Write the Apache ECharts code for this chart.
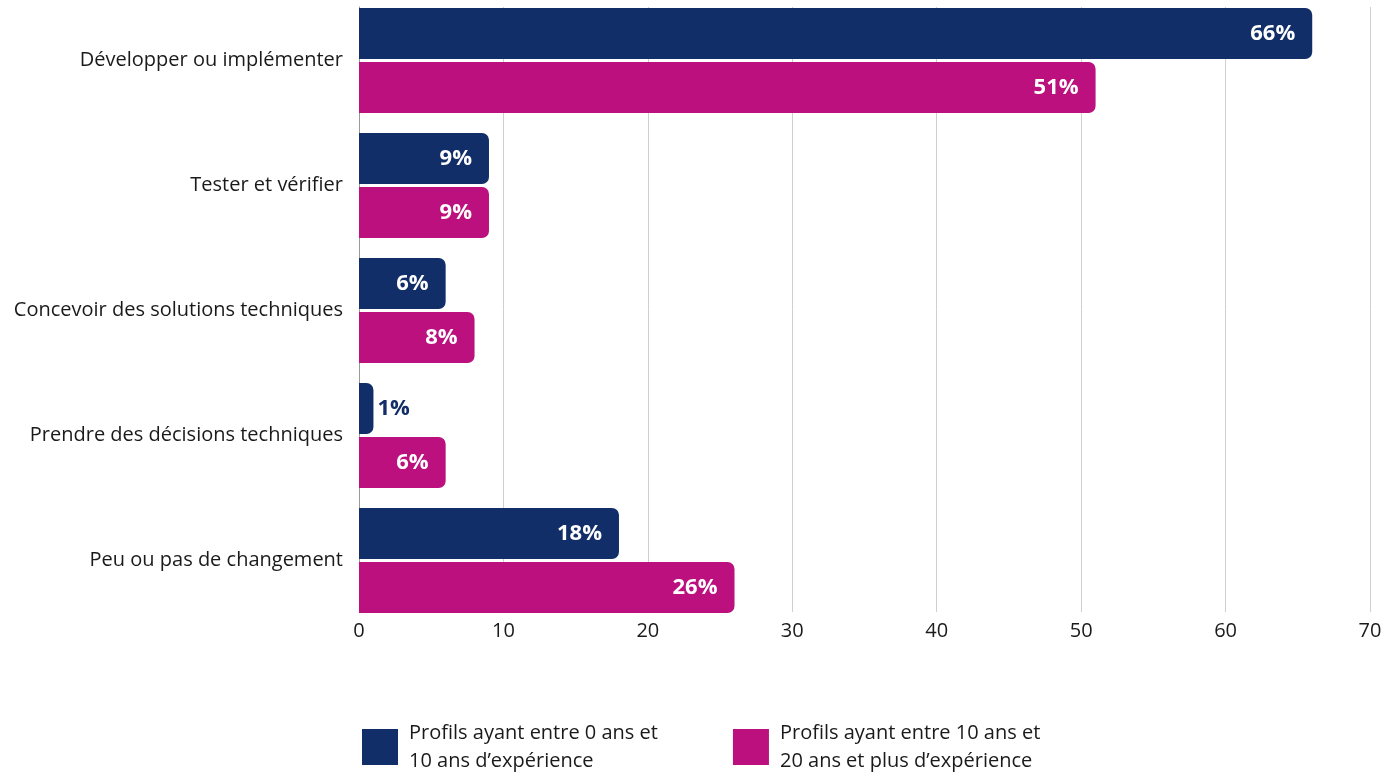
<!DOCTYPE html>
<html>
<head>
<meta charset="utf-8">
<script src="https://cdn.jsdelivr.net/npm/echarts@6/dist/echarts.min.js"></script>
<style>
  html, body { margin: 0; padding: 0; background: #ffffff; }
  #chart { width: 1399px; height: 774px; }
</style>
</head>
<body>
<div id="chart"></div>
<script>
// Répartition des activités selon l'expérience (en %)
const categories = [
  'Développer ou implémenter',
  'Tester et vérifier',
  'Concevoir des solutions techniques',
  'Prendre des décisions techniques',
  'Peu ou pas de changement'
];
const juniorValues = [66, 9, 6, 1, 18];
const seniorValues = [51, 9, 8, 6, 26];
const seriesNames = [
  'Profils ayant entre 0 ans et\n10 ans d’expérience',
  'Profils ayant entre 10 ans et\n20 ans et plus d’expérience'
];
const xTicks = { min: 0, max: 70, interval: 10 };

const NAVY = '#122e68';
const PINK = '#bb107d';
const FONT = '"Open Sans", Lato, sans-serif';

// Bars too short to hold their label get it outside, in the bar colour
function toData(values, color) {
  return values.map(v => v < 3
    ? { value: v, label: { position: 'right', color: color, distance: 4 } }
    : v);
}

const barLabel = {
  show: true,
  position: 'insideRight',
  distance: 17,
  color: '#ffffff',
  fontFamily: FONT,
  fontWeight: 'bold',
  fontSize: 22,
  formatter: p => p.value + '%'
};

const chart = echarts.init(document.getElementById('chart'), null, { renderer: 'canvas' });
chart.setOption({
  animation: false,
  backgroundColor: '#ffffff',
  textStyle: { fontFamily: FONT },
  grid: [
    // bars and category labels
    { left: 359, right: 29, top: -2, height: 625, containLabel: false, outerBoundsMode: 'none' },
    // value scale, gridlines and axis line
    { left: 359, right: 29, top: 7, bottom: 162, containLabel: false, outerBoundsMode: 'none' }
  ],
  xAxis: [
    { gridIndex: 0, type: 'value', min: xTicks.min, max: xTicks.max, interval: xTicks.interval, show: false },
    {
      gridIndex: 1, type: 'value', min: xTicks.min, max: xTicks.max, interval: xTicks.interval,
      axisLine: { show: false }, axisTick: { show: false },
      splitLine: { show: true, lineStyle: { color: '#cfcfcf', width: 1 } },
      axisLabel: { color: '#1a1a1a', fontSize: 20, fontFamily: FONT, margin: 9 }
    }
  ],
  yAxis: [
    {
      gridIndex: 0, type: 'category', data: categories, inverse: true,
      axisLine: { show: false }, axisTick: { show: false }, splitLine: { show: false },
      axisLabel: { color: '#1a1a1a', fontSize: 20, fontFamily: FONT, margin: 16 }
    },
    {
      gridIndex: 1, type: 'category', data: categories, inverse: true,
      axisLine: { show: true, lineStyle: { color: '#9a9a9a', width: 1 } },
      axisTick: { show: false }, axisLabel: { show: false }, splitLine: { show: false }
    }
  ],
  legend: {
    left: 357, top: 714,
    itemWidth: 36, itemHeight: 36, itemGap: 75,
    icon: 'rect',
    textStyle: { color: '#1a1a1a', fontSize: 20, fontFamily: FONT, lineHeight: 28, padding: [0, 0, 0, 6] },
    data: seriesNames
  },
  series: [
    {
      name: seriesNames[0], type: 'bar', xAxisIndex: 0, yAxisIndex: 0,
      data: toData(juniorValues, NAVY),
      barWidth: 51, barGap: '6%',
      itemStyle: { color: NAVY, borderRadius: [0, 7, 7, 0] },
      label: barLabel
    },
    {
      name: seriesNames[1], type: 'bar', xAxisIndex: 0, yAxisIndex: 0,
      data: toData(seniorValues, PINK),
      barWidth: 51, barGap: '6%',
      itemStyle: { color: PINK, borderRadius: [0, 7, 7, 0] },
      label: barLabel
    }
  ]
});
</script>
</body>
</html>
